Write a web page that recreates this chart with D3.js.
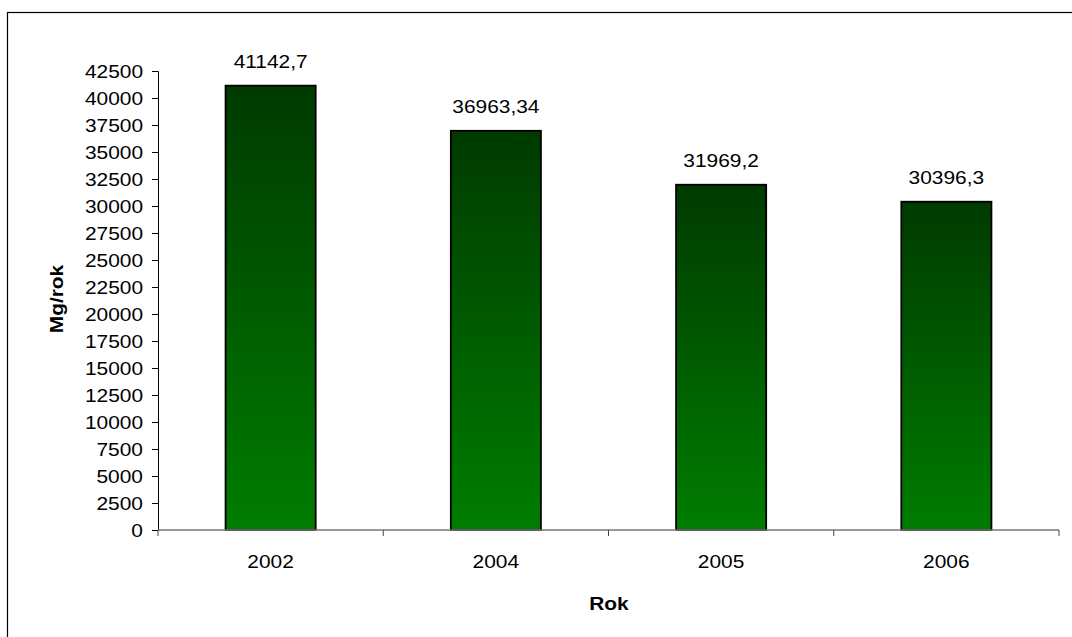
<!DOCTYPE html>
<html>
<head>
<meta charset="utf-8">
<script src="https://cdn.jsdelivr.net/npm/d3@7"></script>
<style>
  body { margin: 0; background: #fff; }
  svg { display: block; font-family: "Liberation Sans", Arial, sans-serif; }
</style>
</head>
<body>
<div id="chart"></div>
<script>
// data
var years = ["2002", "2004", "2005", "2006"];
var values = [41142.7, 36963.34, 31969.2, 30396.3];
var valueLabels = ["41142,7", "36963,34", "31969,2", "30396,3"];
var yTicks = d3.range(0, 42501, 2500);

var width = 1072, height = 637;
var margin = {left: 158, right: 13, top: 71, bottom: 107};
var fs = 19, sx = 1.1; // font size and horizontal stretch of the original

var svg = d3.select("#chart").append("svg")
        .attr("width", width)
        .attr("height", height);

// outer frame (right and bottom edges fall outside the picture)
svg.append("rect")
        .attr("x", 7.5).attr("y", 12.5)
        .attr("width", 1100).attr("height", 700)
        .attr("fill", "none")
        .attr("stroke", "#000")
        .attr("stroke-width", 1.2);

// gradient for bars
var grad = svg.append("defs").append("linearGradient")
        .attr("id", "barGrad")
        .attr("x1", 0).attr("y1", 0).attr("x2", 0).attr("y2", 1);
grad.append("stop").attr("offset", "0%").attr("stop-color", "#003a00");
grad.append("stop").attr("offset", "100%").attr("stop-color", "#007d00");

var x = d3.scaleBand()
        .domain(years)
        .range([margin.left, width - margin.right])
        .paddingInner(0.6)
        .paddingOuter(0.3);

var y = d3.scaleLinear()
        .domain([0, 42500])
        .range([height - margin.bottom, margin.top]);

// stretched text helper
function label(sel, tx, ty, anchor, rot) {
    return sel.attr("transform", function (d, i) {
                return "translate(" + tx(d, i) + "," + ty(d, i) + ")" +
                        (rot ? " rotate(" + rot + ")" : "") + " scale(" + sx + ",1)";
            })
            .attr("text-anchor", anchor)
            .attr("font-size", fs)
            .attr("fill", "#000");
}

// bars
svg.selectAll("rect.bar")
        .data(values)
        .enter()
        .append("rect")
        .attr("class", "bar")
        .attr("x", function (d, i) { return x(years[i]); })
        .attr("y", function (d) { return y(d); })
        .attr("width", x.bandwidth())
        .attr("height", function (d) { return y(0) - y(d); })
        .attr("fill", "url(#barGrad)")
        .attr("stroke", "#000")
        .attr("stroke-width", 1.8);

// value labels
label(svg.selectAll("text.val")
        .data(values)
        .enter()
        .append("text")
        .attr("class", "val")
        .text(function (d, i) { return valueLabels[i]; }),
        function (d, i) { return x(years[i]) + x.bandwidth() / 2; },
        function (d) { return y(d) - 18; }, "middle");

// y axis
var yAxis = svg.append("g")
        .attr("transform", "translate(" + margin.left + ",0)")
        .call(d3.axisLeft(y).tickValues(yTicks).tickSize(6).tickFormat(""));
yAxis.select(".domain").attr("stroke", "#000");
yAxis.selectAll(".tick line").attr("stroke", "#000");
label(svg.selectAll("text.ytick")
        .data(yTicks)
        .enter()
        .append("text")
        .attr("class", "ytick")
        .attr("dy", "0.36em")
        .text(function (d) { return String(d); }),
        function () { return margin.left - 15; },
        function (d) { return y(d); }, "end");

// x axis with ticks between categories
var xAxisY = y(0);
var xg = svg.append("g");
xg.append("line")
        .attr("x1", margin.left).attr("x2", width - margin.right)
        .attr("y1", xAxisY).attr("y2", xAxisY)
        .attr("stroke", "#777").attr("stroke-width", 1.5);
var bounds = d3.range(years.length + 1).map(function (i) {
    return margin.left + i * (width - margin.right - margin.left) / years.length;
});
xg.selectAll("line.tick")
        .data(bounds)
        .enter()
        .append("line")
        .attr("class", "tick")
        .attr("x1", function (d) { return d; })
        .attr("x2", function (d) { return d; })
        .attr("y1", xAxisY)
        .attr("y2", xAxisY + 6)
        .attr("stroke", "#444");
label(xg.selectAll("text")
        .data(years)
        .enter()
        .append("text")
        .text(function (d) { return d; }),
        function (d) { return x(d) + x.bandwidth() / 2; },
        function () { return xAxisY + 38; }, "middle");

// axis titles
label(svg.append("text").datum(0).attr("font-weight", "bold").text("Rok"),
        function () { return 609; }, function () { return 610; }, "middle");
label(svg.append("text").datum(0).attr("font-weight", "bold").text("Mg/rok"),
        function () { return 63; }, function () { return 299; }, "middle", -90);
</script>
</body>
</html>
